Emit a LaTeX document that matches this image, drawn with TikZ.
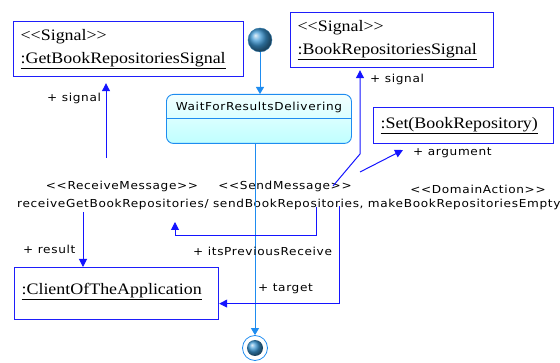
\documentclass[tikz,border=0pt]{standalone}
\usepackage{fontspec}
\setmainfont{Liberation Serif}[Ligatures=TeXOff, FakeStretch=1.12]
\setsansfont{DejaVu Sans}[Ligatures=TeXOff, FakeStretch=1.1, LetterSpace=6]
\usetikzlibrary{arrows.meta, positioning}

\definecolor{objblue}{RGB}{30,30,250}
\definecolor{flowblue}{RGB}{20,20,255}
\definecolor{stateblue}{RGB}{30,140,240}
\definecolor{ballblue}{RGB}{60,150,210}

\tikzset{
  objbox/.style={rectangle, draw=objblue, line width=1.2pt, align=left, anchor=north west,
    inner xsep=7pt, font=\fontsize{16}{23}\selectfont},
  flow/.style={draw=flowblue, line width=1pt, -{Triangle[length=8pt,width=8pt]}},
  ctrl/.style={draw=stateblue, line width=0.9pt, -{Triangle[length=7pt,width=8pt]}},
  lbl/.style={font=\sffamily\fontsize{11}{13}\selectfont, inner sep=0pt, anchor=west},
  acttxt/.style={font=\sffamily\fontsize{11}{13}\selectfont, inner sep=0pt},
}

\begin{document}
\begin{tikzpicture}[x=1pt, y=-1pt]
  \useasboundingbox (0,0) rectangle (560,363);

  % Objects
  \node (getsig) [objbox, text width=216pt, minimum height=55pt] at (13,21)
    {<<Signal>>\\\underline{:GetBookRepositoriesSignal}};
  \node (bksig) [objbox, text width=189pt, minimum height=55pt] at (290,12)
    {<<Signal>>\\\underline{:BookRepositoriesSignal}};
  \node (setbox) [objbox, text width=166pt, minimum height=36pt] at (373,107)
    {\underline{:Set(BookRepository)}};
  \node (client) [objbox, text width=190pt, inner ysep=4pt, text height=23pt, text depth=21pt] at (14,267)
    {\underline{:ClientOfTheApplication}};

  % States
  \node (init) [circle, shading=ball, ball color=ballblue, draw=ballblue!80!black,
    minimum size=24pt, inner sep=0pt] at (260,40) {};
  \node (wait) [rectangle, rounded corners=7pt, draw=stateblue, line width=0.9pt,
    top color=cyan!5, bottom color=cyan!25, anchor=north west, minimum width=185pt,
    inner ysep=4pt, text height=12pt, text depth=29pt, font=\sffamily\fontsize{11}{13}\selectfont]
    at (166,94) {WaitForResultsDelivering};
  \draw[draw=stateblue, line width=0.9pt] ([yshift=-24pt]wait.north west) -- ([yshift=-24pt]wait.north east);
  \node (final) [circle, draw=stateblue, line width=0.8pt, minimum size=25pt, inner sep=0pt] at (255,348) {};
  \node (finalin) [circle, shading=ball, ball color=ballblue, minimum size=16pt, inner sep=0pt] at (final) {};

  % Action text
  \node (rcv) [acttxt, anchor=base west] at (17,208) {receiveGetBookRepositories/};
  \node (snd) [acttxt, base right=4pt of rcv] {sendBookRepositories,};
  \node (dom) [acttxt, base right=4pt of snd] {makeBookRepositoriesEmpty};
  \node (rcvst) [acttxt] at (122,186) {<<ReceiveMessage>>};
  \node (sndst) [acttxt] at (285,186) {<<SendMessage>>};
  \node (domst) [acttxt] at (478,189) {<<DomainAction>>};

  \coordinate (rcvout) at (83,212);
  \coordinate (prevout) at (316,207);
  \coordinate (previn) at (175,222);
  \coordinate (tgtout) at (339,206);
  \coordinate (sigout) at (333,186);
  \coordinate (sigbend) at (360,154);
  \coordinate (argout) at (360,172);
  \coordinate (argin) at (403,150);
  \coordinate (getsigout) at (106,158);

  % Control flow
  \draw[ctrl] (init) -- (init |- wait.north);
  \draw[ctrl] (wait.south -| final) -- (final);

  % Object flows
  \draw[flow, shorten >=6pt] (getsigout) -- (getsigout |- getsig.south);
  \draw[flow, shorten >=2pt] (sigout) -- (sigbend) -- (sigbend |- bksig.south);
  \draw[flow] (argout) -- (argin);
  \draw[flow] (rcvout) -- (rcvout |- client.north);
  \draw[flow] (prevout) -- ++(0,29) -| (previn);
  \draw[flow] (tgtout) |- ([yshift=-10pt]client.east);

  % Roles
  \node (lsig) [lbl] at (47,98) {+ signal};
  \node (rsig) [lbl] at (370,79) {+ signal};
  \node (larg) [lbl] at (413,153) {+ argument};
  \node (lres) [lbl] at (23,249) {+ result};
  \node (lprev) [lbl] at (193,251) {+ itsPreviousReceive};
  \node (ltgt) [lbl] at (258,289) {+ target};
\end{tikzpicture}
\end{document}
